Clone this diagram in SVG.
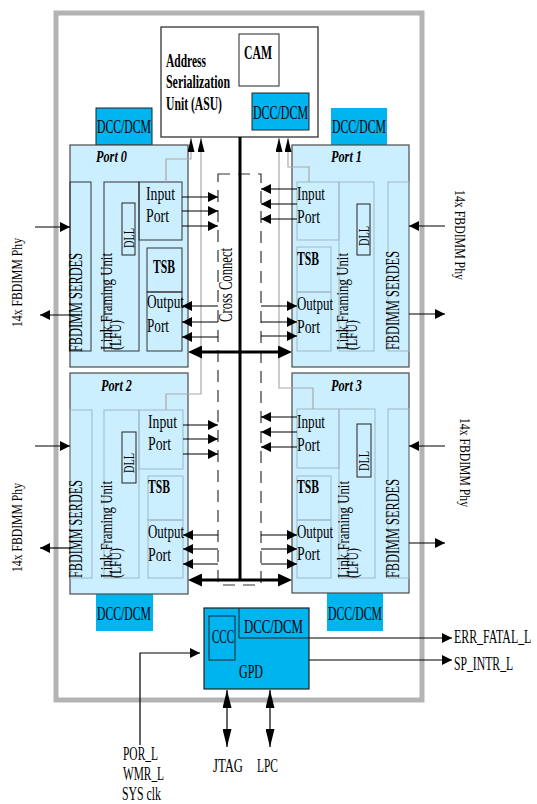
<svg xmlns="http://www.w3.org/2000/svg" width="537" height="804" viewBox="0 0 537 804">
<style>
text{font-family:"Liberation Serif","Times New Roman",serif;font-size:18px;fill:#000}
.b{font-weight:bold}
.bi{font-weight:bold;font-style:italic;font-size:16px}
.sm{font-size:15px}
.lf{font-size:16px}
.port{fill:#ccefff;stroke:#4a4a4a;stroke-width:1.2}
.in0{fill:none;stroke:#333;stroke-width:1}
.inl{fill:none;stroke:#9fb8c4;stroke-width:1}
.dll{fill:none;stroke:#222;stroke-width:1}
.dcc{fill:#00b4f0}
.dccs{fill:#00b4f0;stroke:#222;stroke-width:1}
.ln{fill:none;stroke:#000;stroke-width:1.2}
.gl{fill:none;stroke:#aaa;stroke-width:1.2}
.bold{fill:none;stroke:#000;stroke-width:3}
</style>
<defs>
<marker id="ah" viewBox="0 0 10 10" refX="10" refY="5" markerWidth="10" markerHeight="10" markerUnits="userSpaceOnUse" orient="auto"><path d="M0,0L10,5L0,10z" fill="#000"/></marker>
<marker id="ahb" viewBox="0 0 14 13" refX="10" refY="6.5" markerWidth="14" markerHeight="13" markerUnits="userSpaceOnUse" orient="auto-start-reverse"><path d="M0,0L14,6.5L0,13z" fill="#000"/></marker>
<marker id="aht" viewBox="0 0 14 7" refX="14" refY="3.5" markerWidth="14" markerHeight="7" markerUnits="userSpaceOnUse" orient="auto"><path d="M0,0L14,3.5L0,7z" fill="#000"/></marker>
<marker id="ahj" viewBox="0 0 18 9" refX="18" refY="4.5" markerWidth="18" markerHeight="9" markerUnits="userSpaceOnUse" orient="auto-start-reverse"><path d="M0,0L18,4.5L0,9z" fill="#000"/></marker>
</defs>
<rect width="537" height="804" fill="#fff"/>
<rect id="frame" x="56" y="13" width="366" height="687" fill="none" stroke="#b3b3b3" stroke-width="5"/>

<g id="asu">
<rect x="161" y="27" width="157" height="110" fill="#fff" stroke="#222" stroke-width="1.2"/>
<text class="b" x="166" y="67" textLength="40" lengthAdjust="spacingAndGlyphs">Address</text>
<text class="b" x="166" y="88" textLength="64" lengthAdjust="spacingAndGlyphs">Serialization</text>
<text class="b" x="166" y="110" textLength="56" lengthAdjust="spacingAndGlyphs">Unit (ASU)</text>
</g>
<g id="cam">
<rect x="239" y="34" width="40" height="52" fill="#fff" stroke="#222" stroke-width="1"/>
<text class="b" x="244" y="59" textLength="28" lengthAdjust="spacingAndGlyphs">CAM</text>
</g>
<g id="asu-dcc">
<rect class="dccs" x="252" y="93" width="57" height="37"/>
<text x="253" y="119" textLength="55" lengthAdjust="spacingAndGlyphs">DCC/DCM</text>
</g>
<g id="dcc0">
<rect class="dccs" x="96" y="108" width="56" height="37"/>
<text x="97" y="133" textLength="54" lengthAdjust="spacingAndGlyphs">DCC/DCM</text>
</g>
<g id="dcc1">
<rect class="dcc" x="331" y="108" width="56" height="37"/>
<text x="332" y="133" textLength="54" lengthAdjust="spacingAndGlyphs">DCC/DCM</text>
</g>
<g id="dcc2">
<rect class="dcc" x="96" y="594" width="57" height="37"/>
<text x="97" y="620" textLength="54" lengthAdjust="spacingAndGlyphs">DCC/DCM</text>
</g>
<g id="dcc3">
<rect class="dcc" x="327" y="593" width="56" height="38"/>
<text x="328" y="620" textLength="54" lengthAdjust="spacingAndGlyphs">DCC/DCM</text>
</g>

<g id="port0">
<rect class="port" x="70" y="145" width="118" height="222"/>
<text class="bi" x="96" y="162" textLength="31" lengthAdjust="spacingAndGlyphs">Port 0</text>
<rect class="in0" x="70" y="182" width="21" height="169"/>
<rect class="in0" x="104" y="182" width="35" height="169"/>
<rect class="in0" x="139" y="182" width="43" height="58"/>
<rect class="in0" x="147" y="248" width="35" height="44"/>
<rect class="in0" x="147" y="292" width="35" height="59"/>
<rect class="dll" x="122" y="203" width="13" height="52"/>
<text x="146" y="200" textLength="29" lengthAdjust="spacingAndGlyphs">Input</text>
<text x="146" y="222" textLength="23" lengthAdjust="spacingAndGlyphs">Port</text>
<text class="b" x="153" y="273" textLength="22" lengthAdjust="spacingAndGlyphs">TSB</text>
<text x="147" y="308" textLength="37" lengthAdjust="spacingAndGlyphs">Output</text>
<text x="147" y="332" textLength="22" lengthAdjust="spacingAndGlyphs">Port</text>
<text transform="translate(82,352) rotate(-90)" textLength="99" lengthAdjust="spacingAndGlyphs">FBDIMM SERDES</text>
<text class="lf" transform="translate(112,350) rotate(-90)" textLength="97" lengthAdjust="spacingAndGlyphs">Link Framing Unit</text>
<text class="lf" transform="translate(121,350) rotate(-90)" textLength="30" lengthAdjust="spacingAndGlyphs">(LFU)</text>
<text class="sm" transform="translate(134,248) rotate(-90)" textLength="20" lengthAdjust="spacingAndGlyphs">DLL</text>
</g>

<g id="port1">
<rect class="port" x="292" y="145" width="117" height="222"/>
<text class="bi" x="331" y="162" textLength="31" lengthAdjust="spacingAndGlyphs">Port 1</text>
<rect class="inl" x="297" y="182" width="42" height="58"/>
<rect class="inl" x="339" y="182" width="35" height="169"/>
<rect class="inl" x="388" y="182" width="21" height="169"/>
<rect class="inl" x="297" y="247" width="34" height="45"/>
<rect class="inl" x="297" y="292" width="34" height="59"/>
<rect class="dll" x="357" y="204" width="13" height="51"/>
<text x="297" y="200" textLength="28" lengthAdjust="spacingAndGlyphs">Input</text>
<text x="297" y="223" textLength="23" lengthAdjust="spacingAndGlyphs">Port</text>
<text class="b" x="297" y="265" textLength="22" lengthAdjust="spacingAndGlyphs">TSB</text>
<text x="297" y="310" textLength="36" lengthAdjust="spacingAndGlyphs">Output</text>
<text x="297" y="333" textLength="23" lengthAdjust="spacingAndGlyphs">Port</text>
<text transform="translate(399,350) rotate(-90)" textLength="99" lengthAdjust="spacingAndGlyphs">FBDIMM SERDES</text>
<text class="lf" transform="translate(348,350) rotate(-90)" textLength="97" lengthAdjust="spacingAndGlyphs">Link Framing Unit</text>
<text class="lf" transform="translate(357,350) rotate(-90)" textLength="30" lengthAdjust="spacingAndGlyphs">(LFU)</text>
<text class="sm" transform="translate(369,246) rotate(-90)" textLength="20" lengthAdjust="spacingAndGlyphs">DLL</text>
</g>

<g id="port2">
<rect class="port" x="70" y="373" width="118" height="221"/>
<text class="bi" x="101" y="391" textLength="31" lengthAdjust="spacingAndGlyphs">Port 2</text>
<rect class="inl" x="70" y="410" width="22" height="168"/>
<rect class="inl" x="104" y="410" width="35" height="168"/>
<rect class="inl" x="139" y="410" width="44" height="59"/>
<rect class="inl" x="148" y="476" width="35" height="44"/>
<rect class="inl" x="148" y="520" width="35" height="58"/>
<rect class="dll" x="122" y="432" width="14" height="51"/>
<text x="148" y="428" textLength="29" lengthAdjust="spacingAndGlyphs">Input</text>
<text x="148" y="450" textLength="23" lengthAdjust="spacingAndGlyphs">Port</text>
<text class="b" x="148" y="493" textLength="22" lengthAdjust="spacingAndGlyphs">TSB</text>
<text x="148" y="538" textLength="36" lengthAdjust="spacingAndGlyphs">Output</text>
<text x="148" y="561" textLength="23" lengthAdjust="spacingAndGlyphs">Port</text>
<text transform="translate(82,578) rotate(-90)" textLength="98" lengthAdjust="spacingAndGlyphs">FBDIMM SERDES</text>
<text class="lf" transform="translate(112,578) rotate(-90)" textLength="97" lengthAdjust="spacingAndGlyphs">Link Framing Unit</text>
<text class="lf" transform="translate(121,578) rotate(-90)" textLength="30" lengthAdjust="spacingAndGlyphs">(LFU)</text>
<text class="sm" transform="translate(134,473) rotate(-90)" textLength="20" lengthAdjust="spacingAndGlyphs">DLL</text>
</g>

<g id="port3">
<rect class="port" x="292" y="373" width="117" height="220"/>
<text class="bi" x="331" y="391" textLength="31" lengthAdjust="spacingAndGlyphs">Port 3</text>
<rect class="inl" x="297" y="409" width="42" height="59"/>
<rect class="inl" x="339" y="409" width="36" height="169"/>
<rect class="inl" x="388" y="409" width="21" height="169"/>
<rect class="inl" x="297" y="476" width="34" height="44"/>
<rect class="inl" x="297" y="520" width="34" height="58"/>
<rect class="dll" x="357" y="424" width="14" height="53"/>
<text x="297" y="428" textLength="28" lengthAdjust="spacingAndGlyphs">Input</text>
<text x="297" y="451" textLength="23" lengthAdjust="spacingAndGlyphs">Port</text>
<text class="b" x="297" y="493" textLength="22" lengthAdjust="spacingAndGlyphs">TSB</text>
<text x="297" y="538" textLength="36" lengthAdjust="spacingAndGlyphs">Output</text>
<text x="297" y="560" textLength="23" lengthAdjust="spacingAndGlyphs">Port</text>
<text transform="translate(399,578) rotate(-90)" textLength="99" lengthAdjust="spacingAndGlyphs">FBDIMM SERDES</text>
<text class="lf" transform="translate(349,578) rotate(-90)" textLength="97" lengthAdjust="spacingAndGlyphs">Link Framing Unit</text>
<text class="lf" transform="translate(358,578) rotate(-90)" textLength="30" lengthAdjust="spacingAndGlyphs">(LFU)</text>
<text class="sm" transform="translate(369,471) rotate(-90)" textLength="20" lengthAdjust="spacingAndGlyphs">DLL</text>
</g>

<g id="crossconnect">
<rect x="218" y="174" width="43" height="411" fill="none" stroke="#333" stroke-width="1.2" stroke-dasharray="12 8"/>
<text transform="translate(232,322) rotate(-90)" textLength="74" lengthAdjust="spacingAndGlyphs">Cross Connect</text>
</g>

<g id="gpd">
<rect x="204" y="608" width="105" height="81" fill="#00b4f0" stroke="#222" stroke-width="1.2"/>
<rect x="209" y="616" width="26" height="44" fill="none" stroke="#222" stroke-width="1"/>
<text x="212" y="643" textLength="22" lengthAdjust="spacingAndGlyphs">CCC</text>
<polyline points="239,608 239,638 309,638" fill="none" stroke="#222" stroke-width="1"/>
<text x="244" y="633" textLength="59" lengthAdjust="spacingAndGlyphs">DCC/DCM</text>
<text x="239" y="678" textLength="24" lengthAdjust="spacingAndGlyphs">GPD</text>
</g>

<g id="labels">
<text class="sm" transform="translate(22,327) rotate(-90)" textLength="89" lengthAdjust="spacingAndGlyphs">14x FBDIMM Phy</text>
<text class="sm" transform="translate(22,572) rotate(-90)" textLength="89" lengthAdjust="spacingAndGlyphs">14x FBDIMM Phy</text>
<text class="sm" transform="translate(455,190) rotate(90)" textLength="90" lengthAdjust="spacingAndGlyphs">14x FBDIMM Phy</text>
<text class="sm" transform="translate(460,418) rotate(90)" textLength="89" lengthAdjust="spacingAndGlyphs">14x FBDIMM Phy</text>
<text transform="translate(454,643) scale(0.66,1)">ERR_FATAL_L</text>
<text transform="translate(454,670) scale(0.65,1)">SP_INTR_L</text>
<text x="123" y="760" textLength="35" lengthAdjust="spacingAndGlyphs">POR_L</text>
<text x="123" y="780" textLength="41" lengthAdjust="spacingAndGlyphs">WMR_L</text>
<text x="122" y="800" textLength="39" lengthAdjust="spacingAndGlyphs">SYS clk</text>
<text x="213" y="772" textLength="30" lengthAdjust="spacingAndGlyphs">JTAG</text>
<text x="257" y="772" textLength="21" lengthAdjust="spacingAndGlyphs">LPC</text>
</g>

<g id="connectors">
<polyline class="gl" points="166,182 166,159 191,159 191,138" marker-end="url(#aht)"/>
<polyline class="gl" points="166,410 166,394 201,394 201,138" marker-end="url(#aht)"/>
<polyline class="gl" points="309,182 309,167 288,167 288,138" marker-end="url(#aht)"/>
<polyline class="gl" points="313,409 313,388 279,388 279,138" marker-end="url(#aht)"/>
<line class="bold" x1="240" y1="137" x2="240" y2="580"/>
<line class="bold" x1="192" y1="352" x2="288" y2="352" marker-start="url(#ahb)" marker-end="url(#ahb)"/>
<line class="bold" x1="192" y1="580" x2="288" y2="580" marker-start="url(#ahb)" marker-end="url(#ahb)"/>
<line class="ln" x1="182" y1="197" x2="218" y2="197" marker-end="url(#ah)"/>
<line class="ln" x1="182" y1="211" x2="218" y2="211" marker-end="url(#ah)"/>
<line class="ln" x1="182" y1="226" x2="218" y2="226" marker-end="url(#ah)"/>
<line class="ln" x1="218" y1="306" x2="182" y2="306" marker-end="url(#ah)"/>
<line class="ln" x1="218" y1="322" x2="182" y2="322" marker-end="url(#ah)"/>
<line class="ln" x1="218" y1="337" x2="182" y2="337" marker-end="url(#ah)"/>
<line class="ln" x1="297" y1="189" x2="261" y2="189" marker-end="url(#ah)"/>
<line class="ln" x1="297" y1="204" x2="261" y2="204" marker-end="url(#ah)"/>
<line class="ln" x1="297" y1="219" x2="261" y2="219" marker-end="url(#ah)"/>
<line class="ln" x1="261" y1="306" x2="297" y2="306" marker-end="url(#ah)"/>
<line class="ln" x1="261" y1="322" x2="297" y2="322" marker-end="url(#ah)"/>
<line class="ln" x1="261" y1="336" x2="297" y2="336" marker-end="url(#ah)"/>
<line class="ln" x1="183" y1="425" x2="218" y2="425" marker-end="url(#ah)"/>
<line class="ln" x1="183" y1="439" x2="218" y2="439" marker-end="url(#ah)"/>
<line class="ln" x1="183" y1="454" x2="218" y2="454" marker-end="url(#ah)"/>
<line class="ln" x1="218" y1="535" x2="183" y2="535" marker-end="url(#ah)"/>
<line class="ln" x1="218" y1="549" x2="183" y2="549" marker-end="url(#ah)"/>
<line class="ln" x1="218" y1="564" x2="183" y2="564" marker-end="url(#ah)"/>
<line class="ln" x1="297" y1="417" x2="261" y2="417" marker-end="url(#ah)"/>
<line class="ln" x1="297" y1="432" x2="261" y2="432" marker-end="url(#ah)"/>
<line class="ln" x1="297" y1="447" x2="261" y2="447" marker-end="url(#ah)"/>
<line class="ln" x1="261" y1="535" x2="297" y2="535" marker-end="url(#ah)"/>
<line class="ln" x1="261" y1="549" x2="297" y2="549" marker-end="url(#ah)"/>
<line class="ln" x1="261" y1="564" x2="297" y2="564" marker-end="url(#ah)"/>
<line class="ln" x1="35" y1="227" x2="70" y2="227" marker-end="url(#ah)"/>
<line class="ln" x1="80" y1="315" x2="40" y2="315" marker-end="url(#ah)"/>
<line class="ln" x1="35" y1="446" x2="70" y2="446" marker-end="url(#ah)"/>
<line class="ln" x1="70" y1="548" x2="40" y2="548" marker-end="url(#ah)"/>
<line class="ln" x1="445" y1="226" x2="409" y2="226" marker-end="url(#ah)"/>
<line class="ln" x1="409" y1="314" x2="445" y2="314" marker-end="url(#ah)"/>
<line class="ln" x1="445" y1="446" x2="409" y2="446" marker-end="url(#ah)"/>
<line class="ln" x1="409" y1="543" x2="445" y2="543" marker-end="url(#ah)"/>
<line class="ln" x1="309" y1="638" x2="452" y2="638" marker-end="url(#ah)"/>
<line class="ln" x1="309" y1="660" x2="452" y2="660" marker-end="url(#ah)"/>
<polyline class="ln" points="140,745 140,653 200,653" marker-end="url(#ah)"/>
<line class="ln" x1="227" y1="690" x2="227" y2="747" marker-start="url(#ahj)" marker-end="url(#ahj)"/>
<line class="ln" x1="270" y1="690" x2="270" y2="747" marker-start="url(#ahj)" marker-end="url(#ahj)"/>
</g>
</svg>
